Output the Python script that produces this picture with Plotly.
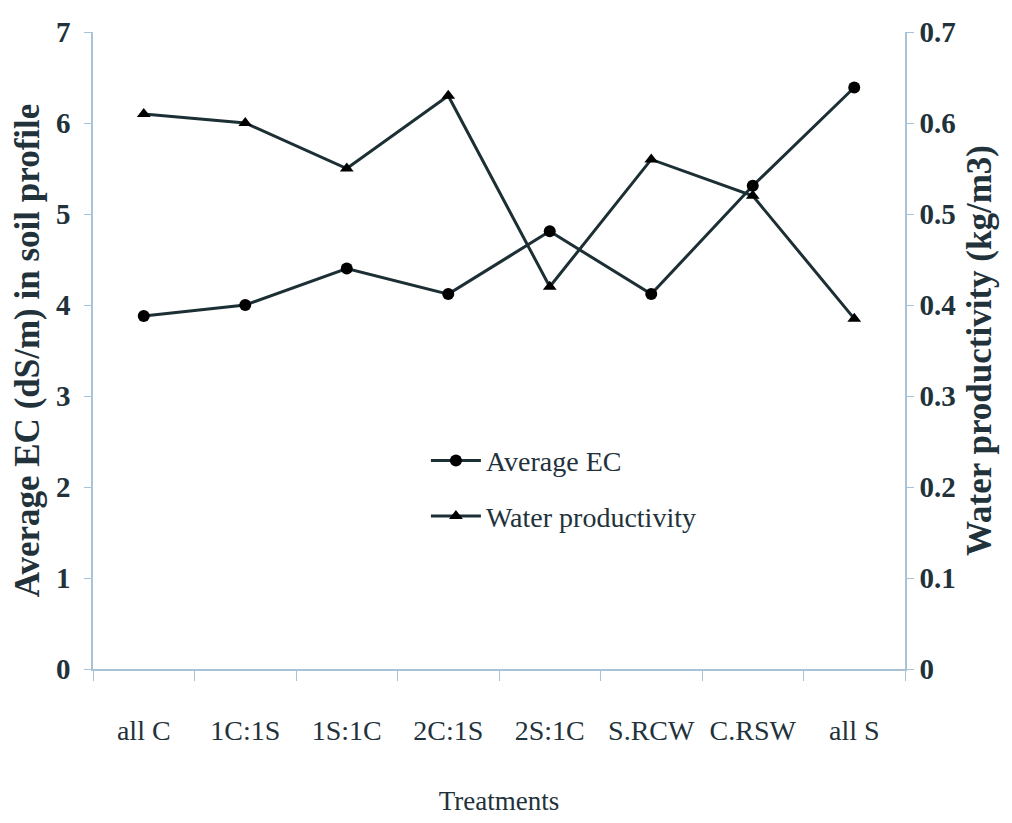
import plotly.graph_objects as go

# Treatments and measured values
treatments = ["all C", "1C:1S", "1S:1C", "2C:1S", "2S:1C", "S.RCW", "C.RSW", "all S"]
average_ec = [3.88, 4.00, 4.40, 4.12, 4.81, 4.12, 5.31, 6.39]          # dS/m
water_productivity = [0.61, 0.60, 0.55, 0.63, 0.42, 0.56, 0.52, 0.385]  # kg/m3

line_color = "#1c2f35"
axis_color = "#a8c3d5"
text_color = "#22323b"
serif = "Liberation Serif, Times New Roman, serif"

fig = go.Figure()

fig.add_trace(go.Scatter(
    x=treatments, y=average_ec, name="Average EC", mode="lines+markers",
    line=dict(color=line_color, width=3),
    marker=dict(symbol="circle", size=12, color="black"),
    yaxis="y", legendgroup="ec",
))
fig.add_trace(go.Scatter(
    x=treatments, y=water_productivity, name="Water productivity", mode="lines+markers",
    line=dict(color=line_color, width=3),
    marker=dict(symbol="triangle-up", size=12, color="black"),
    yaxis="y2", legendgroup="wp",
))

fig.update_layout(
    width=1012, height=823,
    margin=dict(l=93, r=107, t=32, b=151),
    paper_bgcolor="white", plot_bgcolor="white",
    font=dict(family=serif, color=text_color, size=24),
    showlegend=True,
    legend=dict(
        x=0.41, y=0.366, xanchor="left", yanchor="top",
        bgcolor="rgba(0,0,0,0)", font=dict(size=28, family=serif, color=text_color),
        itemwidth=50, traceorder="grouped", tracegroupgap=16,
    ),
    xaxis=dict(
        type="category", range=[-0.5, 7.5],
        showline=True, linecolor=axis_color, linewidth=1.5,
        ticks="outside", tickson="boundaries", ticklen=10, tickcolor=axis_color,
        showgrid=False, zeroline=False,
        tickfont=dict(size=28, family=serif, color=text_color),
        ticklabelstandoff=36,
        title=dict(text="Treatments", font=dict(size=27, family=serif, color=text_color), standoff=46),
    ),
    yaxis=dict(
        range=[0, 7], dtick=1, showline=True, linecolor=axis_color, linewidth=1.5,
        ticks="outside", ticklen=7, tickcolor=axis_color,
        showgrid=False, zeroline=False,
        tickfont=dict(size=29, family=serif, color=text_color, weight="bold"),
        ticklabelstandoff=8,
        title=dict(text="Average EC (dS/m) in soil profile",
                   font=dict(size=35, family=serif, color=text_color, weight="bold"), standoff=6),
    ),
    yaxis2=dict(
        range=[0, 0.7], dtick=0.1, overlaying="y", side="right",
        showline=True, linecolor=axis_color, linewidth=1.5,
        ticks="outside", ticklen=7, tickcolor=axis_color,
        showgrid=False, zeroline=False,
        tickfont=dict(size=29, family=serif, color=text_color, weight="bold"),
        ticklabelstandoff=0,
        title=dict(text="Water productivity (kg/m3)",
                   font=dict(size=35, family=serif, color=text_color, weight="bold"), standoff=12),
    ),
)

fig.write_html("out.html")
